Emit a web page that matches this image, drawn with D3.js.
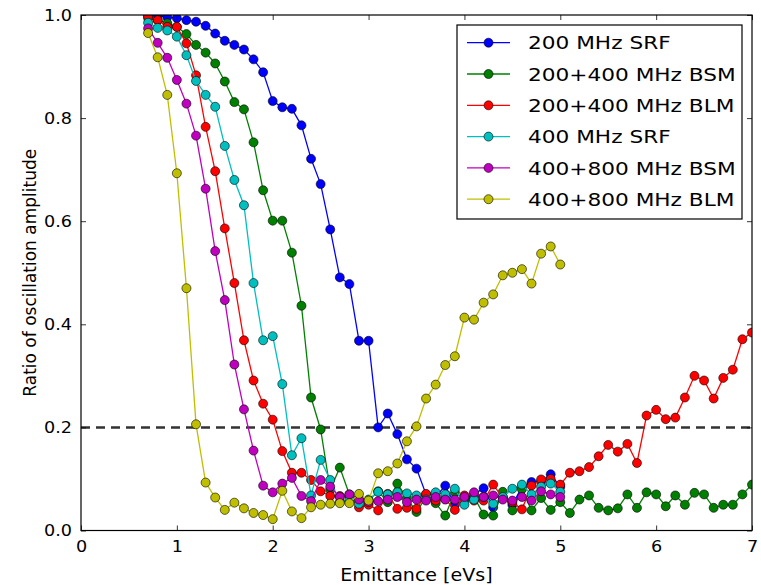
<!DOCTYPE html>
<html>
<head>
<meta charset="utf-8">
<script src="https://cdn.jsdelivr.net/npm/d3@7"></script>
<style>
  html, body { margin: 0; padding: 0; background: #fff; }
  svg { display: block; font-family: "DejaVu Sans", sans-serif; }
</style>
</head>
<body>
<svg id="chart" width="761" height="585"></svg>
<script>
// Emittance grid [eVs]
const emittance = [0.7,0.8,0.9,1.0,1.1,1.2,1.3,1.4,1.5,1.6,1.7,1.8,1.9,2.0,2.1,2.2,2.3,2.4,2.5,2.6,
  2.7,2.8,2.9,3.0,3.1,3.2,3.3,3.4,3.5,3.6,3.7,3.8,3.9,4.0,4.1,4.2,4.3,4.4,4.5,4.6,
  4.7,4.8,4.9,5.0,5.1,5.2,5.3,5.4,5.5,5.6,5.7,5.8,5.9,6.0,6.1,6.2,6.3,6.4,6.5,6.6,
  6.7,6.8,6.9,7.0];

const srf200 = [1.0,0.999,0.996,0.994,0.99,0.987,0.979,0.964,0.95,0.942,0.933,0.914,0.889,0.833,0.821,0.818,0.786,0.721,0.672,0.584,
  0.491,0.478,0.368,0.368,0.2,0.227,0.187,0.138,0.12,0.07,0.065,0.087,0.05,0.06,0.07,0.082,0.045,0.065,0.05,0.085,
  0.094,0.095,0.109,0.085];

const bsm200400 = [0.994,0.99,0.984,0.977,0.963,0.942,0.927,0.906,0.871,0.831,0.817,0.753,0.66,0.601,0.601,0.539,0.436,0.258,0.196,0.079,
  0.122,0.07,0.062,0.058,0.076,0.055,0.091,0.063,0.036,0.065,0.053,0.029,0.074,0.06,0.065,0.031,0.029,0.075,0.039,0.08,
  0.039,0.063,0.04,0.055,0.034,0.06,0.068,0.044,0.039,0.043,0.07,0.044,0.074,0.07,0.047,0.068,0.05,0.073,0.07,0.044,
  0.05,0.05,0.07,0.089];

const blm200400 = [0.997,0.99,0.977,0.977,0.945,0.883,0.783,0.697,0.586,0.48,0.369,0.291,0.246,0.215,0.154,0.112,0.112,0.098,0.076,0.067,
  0.067,0.067,0.045,0.05,0.039,0.071,0.042,0.044,0.042,0.071,0.058,0.061,0.04,0.068,0.058,0.058,0.089,0.063,0.055,0.041,
  0.087,0.099,0.1,0.089,0.112,0.115,0.123,0.144,0.166,0.153,0.168,0.131,0.223,0.234,0.216,0.219,0.258,0.3,0.291,0.256,
  0.296,0.312,0.371,0.384];

const srf400 = [0.985,0.975,0.97,0.958,0.922,0.872,0.845,0.822,0.746,0.68,0.631,0.48,0.369,0.377,0.284,0.146,0.179,0.068,0.137,0.098,
  0.055,0.06,0.052,0.06,0.075,0.07,0.074,0.072,0.068,0.06,0.074,0.07,0.081,0.05,0.06,0.065,0.052,0.065,0.081,0.089,
  0.07,0.085,0.091,0.075];

const bsm400800 = [0.974,0.946,0.917,0.874,0.828,0.766,0.663,0.542,0.447,0.322,0.235,0.155,0.087,0.074,0.091,0.102,0.067,0.057,0.098,0.085,
  0.065,0.07,0.06,0.055,0.057,0.06,0.065,0.055,0.06,0.058,0.065,0.06,0.06,0.065,0.074,0.065,0.068,0.06,0.058,0.065,
  0.058,0.076,0.07,0.065];

const blm400800 = [0.965,0.918,0.845,0.693,0.47,0.206,0.093,0.064,0.04,0.054,0.043,0.034,0.03,0.022,0.077,0.037,0.024,0.045,0.05,0.052,
  0.053,0.053,0.071,0.058,0.111,0.115,0.13,0.173,0.202,0.256,0.283,0.321,0.338,0.413,0.409,0.442,0.458,0.495,0.5,0.507,
  0.479,0.537,0.551,0.516];

const seriesNames = ["200 MHz SRF","200+400 MHz BSM","200+400 MHz BLM","400 MHz SRF","400+800 MHz BSM","400+800 MHz BLM"];
const seriesValues = [srf200, bsm200400, blm200400, srf400, bsm400800, blm400800];
const seriesColors = ["#0000ff","#008000","#ff0000","#00bfbf","#bf00bf","#bfbf00"];

const xTicks = [0,1,2,3,4,5,6,7];
const yTicks = [0.0,0.2,0.4,0.6,0.8,1.0];
const threshold = 0.2;

(function(){
const svg = d3.select("#chart");
const pL = 81, pR = 752, pT = 15, pB = 530.5;
const x = d3.scaleLinear().domain([0,7]).range([pL,pR]);
const y = d3.scaleLinear().domain([0,1]).range([pB,pT]);

// horizontally widen text (reference rendering is slightly stretched)
function stretch(sel, sx){
  sel.each(function(){
    const w = this.getComputedTextLength();
    if (w > 0) d3.select(this).attr("textLength", w*sx).attr("lengthAdjust","spacingAndGlyphs");
  });
}

svg.append("defs").append("clipPath").attr("id","plotclip")
  .append("rect").attr("x",pL).attr("y",pT).attr("width",pR-pL).attr("height",pB-pT);

const plot = svg.append("g").attr("clip-path","url(#plotclip)");

plot.append("line")
  .attr("x1",x(0)).attr("x2",x(7)).attr("y1",y(threshold)).attr("y2",y(threshold))
  .attr("stroke","#333").attr("stroke-width",2.5).attr("stroke-dasharray","9,6");

const line = d3.line().x(d=>x(d[0])).y(d=>y(d[1]));
seriesValues.forEach((vals,si)=>{
  const pts = vals.map((v,i)=>[emittance[i], v]);
  const g = plot.append("g");
  g.append("path").attr("d", line(pts)).attr("fill","none")
    .attr("stroke",seriesColors[si]).attr("stroke-width",1.3);
  g.selectAll("circle").data(pts).enter().append("circle")
    .attr("cx",d=>x(d[0])).attr("cy",d=>y(d[1])).attr("r",4.5)
    .attr("fill",seriesColors[si]).attr("stroke","#000").attr("stroke-width",0.6);
});

const tickLen = 5;
const xAxisB = d3.axisBottom(x).tickValues(xTicks).tickFormat(d3.format("d")).tickSizeInner(-tickLen).tickSizeOuter(0).tickPadding(10);
const xAxisT = d3.axisTop(x).tickValues(xTicks).tickFormat("").tickSizeInner(-tickLen).tickSizeOuter(0);
const yAxisL = d3.axisLeft(y).tickValues(yTicks).tickFormat(d3.format(".1f")).tickSizeInner(-tickLen).tickSizeOuter(0).tickPadding(9);
const yAxisR = d3.axisRight(y).tickValues(yTicks).tickFormat("").tickSizeInner(-tickLen).tickSizeOuter(0);

function styleAxis(g){
  g.select(".domain").remove();
  g.selectAll("line").attr("stroke","#000").attr("stroke-width",0.8);
  g.selectAll("text").attr("fill","#000").attr("font-size",16).attr("font-family","DejaVu Sans, sans-serif");
  stretch(g.selectAll("text"), 1.1);
}
svg.append("g").attr("transform",`translate(0,${pB})`).call(xAxisB).call(styleAxis);
svg.append("g").attr("transform",`translate(0,${pT})`).call(xAxisT).call(styleAxis);
svg.append("g").attr("transform",`translate(${pL},0)`).call(yAxisL).call(styleAxis);
svg.append("g").attr("transform",`translate(${pR},0)`).call(yAxisR).call(styleAxis);

svg.append("rect").attr("x",pL).attr("y",pT).attr("width",pR-pL).attr("height",pB-pT)
  .attr("fill","none").attr("stroke","#000").attr("stroke-width",1.2);

const xl = svg.append("text").attr("x",(pL+pR)/2).attr("y",581).attr("text-anchor","middle")
  .attr("font-size",17).attr("fill","#000").text("Emittance [eVs]");
stretch(xl, 1.12);
svg.append("text").attr("transform",`translate(36,${(pT+pB)/2}) rotate(-90)`).attr("text-anchor","middle")
  .attr("font-size",17).attr("fill","#000").text("Ratio of oscillation amplitude");

const lg = svg.append("g");
lg.append("rect").attr("x",457).attr("y",25).attr("width",285).attr("height",194)
  .attr("fill","#fff").attr("stroke","#000").attr("stroke-width",1.2);
seriesNames.forEach((name,i)=>{
  const cy = 42.7 + i*31.3;
  lg.append("line").attr("x1",467).attr("x2",510).attr("y1",cy).attr("y2",cy)
    .attr("stroke",seriesColors[i]).attr("stroke-width",1.3);
  lg.append("circle").attr("cx",488.5).attr("cy",cy).attr("r",4.5)
    .attr("fill",seriesColors[i]).attr("stroke","#000").attr("stroke-width",0.6);
  const t = lg.append("text").attr("x",528).attr("y",cy).attr("dy","0.36em")
    .attr("font-size",18.5).attr("fill","#000").text(name);
  stretch(t, 1.17);
});
})();
</script>
</body>
</html>
